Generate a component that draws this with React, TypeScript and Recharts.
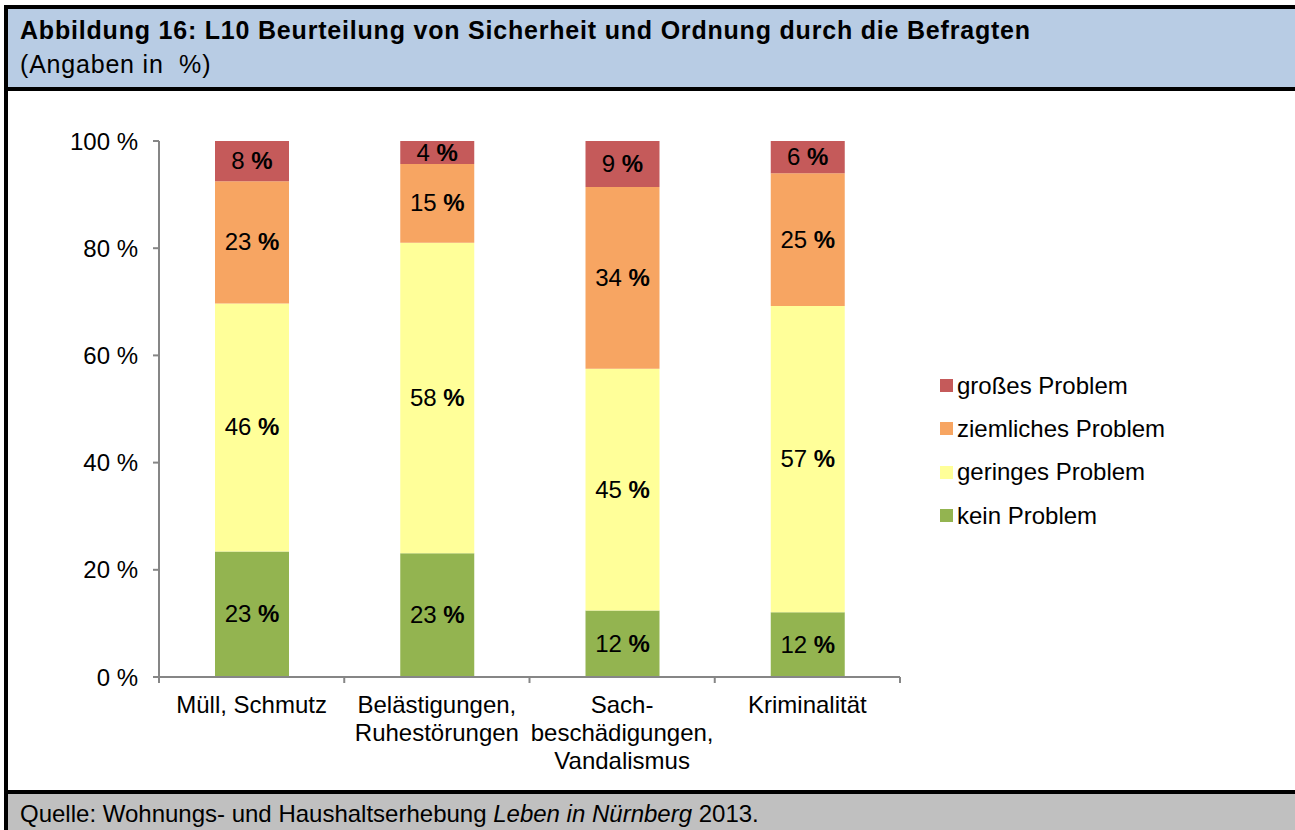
import React from 'react';
import { BarChart, Bar, XAxis, YAxis, LabelList } from 'recharts';

const categories = ['Müll, Schmutz', 'Belästigungen,\nRuhestörungen', 'Sach-\nbeschädigungen,\nVandalismus', 'Kriminalität'];
const keinProblem = [23.4, 23.1, 12.4, 12.1];
const geringesProblem = [46.3, 57.9, 45.1, 57.1];
const ziemlichesProblem = [22.8, 14.7, 33.9, 24.8];
const grossesProblem = [7.5, 4.3, 8.6, 6.0];
const yTicks = [0, 20, 40, 60, 80, 100];

const series = [
  { key: 'kein', name: 'kein Problem', color: '#93B450' },
  { key: 'gering', name: 'geringes Problem', color: '#FFFF99' },
  { key: 'ziemlich', name: 'ziemliches Problem', color: '#F7A562' },
  { key: 'gross', name: 'großes Problem', color: '#C55A5A' },
];

const data = categories.map((c, i) => ({
  name: c,
  kein: keinProblem[i],
  gering: geringesProblem[i],
  ziemlich: ziemlichesProblem[i],
  gross: grossesProblem[i],
}));

const FONT = '"Liberation Sans", Arial, sans-serif';
const AXIS = '#868686';

// category label, plus the small tick marks at the band edges
const CategoryTick = (props: any) => {
  const { x, y, payload, width, visibleTicksCount, index } = props;
  const band = width / visibleTicksCount;
  const lines = String(payload.value).split('\n');
  const axisY = y - 8;
  return (
    <g>
      <line x1={x - band / 2} x2={x - band / 2} y1={axisY} y2={axisY + 6} stroke={AXIS} strokeWidth={2} />
      {index === visibleTicksCount - 1 && (
        <line x1={x + band / 2} x2={x + band / 2} y1={axisY} y2={axisY + 6} stroke={AXIS} strokeWidth={2} />
      )}
      <text x={x} y={y} textAnchor="middle" fontSize={24} fontFamily={FONT} fill="#000">
        {lines.map((l, i) => (
          <tspan key={i} x={x} dy={i === 0 ? 28 : 28}>{l}</tspan>
        ))}
      </text>
    </g>
  );
};

const SegmentLabel = (props: any) => {
  const { x, y, width, height, value } = props;
  return (
    <text x={x + width / 2} y={y + height / 2} dy={8} textAnchor="middle" fontSize={24} fontFamily={FONT} fill="#000">
      <tspan>{Math.round(value)} </tspan>
      <tspan fontWeight="bold">%</tspan>
    </text>
  );
};

export default function App() {
  return (
    <div style={{ position: 'absolute', left: 0, top: 0, width: 1295, height: 830, overflow: 'hidden', background: '#fff', fontFamily: FONT, color: '#000' }}>
      <div style={{ position: 'absolute', left: 4, top: 5, width: 1300, height: 830, border: '4px solid #000', boxSizing: 'border-box', background: '#fff' }} />
      <div style={{ position: 'absolute', left: 8, top: 9, width: 1300, height: 78, background: '#B8CCE4', borderBottom: '4px solid #000' }}>
        <div style={{ position: 'absolute', left: 12, top: 7, fontSize: 25, fontWeight: 'bold', letterSpacing: 0.8, whiteSpace: 'nowrap' }}>
          Abbildung 16: L10 Beurteilung von Sicherheit und Ordnung durch die Befragten
        </div>
        <div style={{ position: 'absolute', left: 12, top: 41, fontSize: 25, letterSpacing: 0.8, whiteSpace: 'pre' }}>(Angaben in  %)</div>
      </div>
      <div style={{ position: 'absolute', left: 8, top: 790, width: 1300, height: 40, background: '#C0C0C0', borderTop: '4px solid #000' }}>
        <div style={{ position: 'absolute', left: 12, top: 6, fontSize: 24, whiteSpace: 'nowrap' }}>
          Quelle: Wohnungs- und Haushaltserhebung <i>Leben in Nürnberg</i> 2013.
        </div>
      </div>
      <div style={{ position: 'absolute', left: 0, top: 100 }}>
        <BarChart width={1295} height={690} data={data} margin={{ top: 41, right: 395, bottom: 13, left: 0 }} barSize={74}>
          <XAxis
            dataKey="name"
            axisLine={{ stroke: AXIS, strokeWidth: 2 }}
            tickLine={false}
            tick={<CategoryTick />}
            interval={0}
            height={100}
          />
          <YAxis
            domain={[0, 100]}
            ticks={yTicks}
            tickFormatter={(v) => `${v} %`}
            axisLine={{ stroke: AXIS, strokeWidth: 2 }}
            tickLine={{ stroke: AXIS, strokeWidth: 2 }}
            tickSize={6}
            tickMargin={15}
            width={159}
            tick={{ fontSize: 24, fontFamily: FONT, fill: '#000' }}
          />
          {series.map((s) => (
            <Bar key={s.key} dataKey={s.key} name={s.name} stackId="a" fill={s.color} isAnimationActive={false}>
              <LabelList dataKey={s.key} content={<SegmentLabel />} />
            </Bar>
          ))}
        </BarChart>
      </div>
      <div style={{ position: 'absolute', left: 940, top: 364, fontSize: 24 }}>
        {[...series].reverse().map((s) => (
          <div key={s.key} style={{ display: 'flex', alignItems: 'center', height: 43.3, whiteSpace: 'nowrap' }}>
            <span style={{ width: 13, height: 13, background: s.color, marginRight: 4, display: 'inline-block' }} />
            <span>{s.name}</span>
          </div>
        ))}
      </div>
    </div>
  );
}
